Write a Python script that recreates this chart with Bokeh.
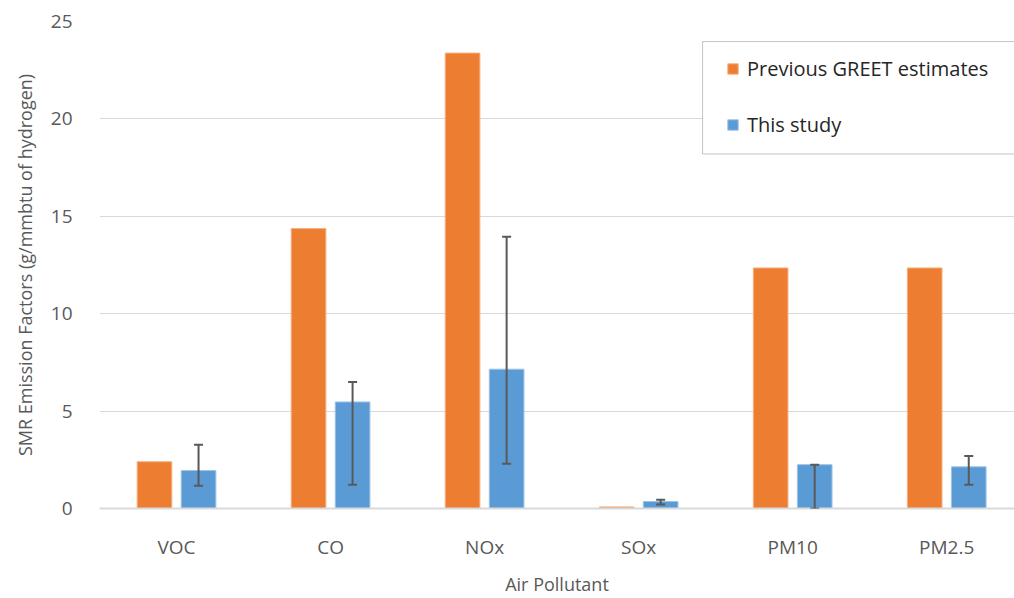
import numpy as np
from bokeh.plotting import figure
from bokeh.models import (ColumnDataSource, Range1d, FixedTicker, Whisker,
                          Legend, LegendItem, BoxAnnotation)
from bokeh.embed import file_html
from bokeh.resources import INLINE

categories = ["VOC", "CO", "NOx", "SOx", "PM10", "PM2.5"]
greet_values = [2.4, 14.37, 23.38, 0.08, 12.35, 12.35]
study_values = [1.95, 5.47, 7.15, 0.36, 2.25, 2.14]
study_upper = [3.27, 6.5, 13.95, 0.45, 2.25, 2.7]
study_lower = [1.17, 1.22, 2.3, 0.2, 0.0, 1.22]
y_ticks = [0, 5, 10, 15, 20, 25]

FONT = "Open Sans"
TXT = "#595959"
ORANGE = "#ED7D31"
BLUE = "#5B9BD5"

idx = np.arange(len(categories))
off = 0.143
bw = 0.225

src_g = ColumnDataSource(dict(x=idx - off, top=greet_values))
src_s = ColumnDataSource(dict(x=idx + off, top=study_values,
                              upper=study_upper, lower=study_lower))

X0, X1 = -0.5, 5.44
p = figure(width=1014, height=598, output_backend="svg", toolbar_location=None,
           x_range=Range1d(X0, X1), y_range=Range1d(0, 25))
p.min_border_left = 99
p.min_border_right = 0
p.min_border_top = 21
p.min_border_bottom = 87
p.outline_line_color = None

r1 = p.vbar(x="x", top="top", width=bw, source=src_g, fill_color=ORANGE,
            line_color="#F4B183", line_width=1)
r2 = p.vbar(x="x", top="top", width=bw, source=src_s, fill_color=BLUE,
            line_color="#9DC3E6", line_width=1)

wh = Whisker(base="x", upper="upper", lower="lower", source=src_s,
             line_color="#595959", line_width=2, level="overlay")
for head in (wh.upper_head, wh.lower_head):
    head.size = 9
    head.line_color = "#595959"
    head.line_width = 2
p.add_layout(wh)

# axes
p.xaxis.ticker = FixedTicker(ticks=list(idx))
p.xaxis.major_label_overrides = {int(i): c for i, c in zip(idx, categories)}
p.xaxis.major_tick_line_color = None
p.xaxis.minor_tick_line_color = None
p.xaxis.axis_line_color = "#D9D9D9"
p.xaxis.axis_line_width = 2
p.xaxis.major_label_standoff = 19
p.xaxis.major_label_text_font = FONT
p.xaxis.major_label_text_font_size = "19px"
p.xaxis.major_label_text_color = TXT
p.xaxis.axis_label = "Air Pollutant"
p.xaxis.axis_label_text_font = FONT
p.xaxis.axis_label_text_font_style = "normal"
p.xaxis.axis_label_text_font_size = "18px"
p.xaxis.axis_label_text_color = TXT
p.xaxis.axis_label_standoff = 9

p.yaxis.ticker = FixedTicker(ticks=y_ticks)
p.yaxis.major_tick_line_color = None
p.yaxis.minor_tick_line_color = None
p.yaxis.axis_line_color = None
p.yaxis.major_label_standoff = 21
p.yaxis.major_label_text_font = FONT
p.yaxis.major_label_text_font_size = "19px"
p.yaxis.major_label_text_color = TXT
p.yaxis.axis_label = "SMR Emission Factors (g/mmbtu of hydrogen)"
p.yaxis.axis_label_text_font = FONT
p.yaxis.axis_label_text_font_style = "normal"
p.yaxis.axis_label_text_font_size = "18px"
p.yaxis.axis_label_text_color = TXT
p.yaxis.axis_label_standoff = 11

p.xgrid.grid_line_color = None
p.ygrid.grid_line_color = "#D9D9D9"
p.ygrid.grid_line_width = 1

# legend frame (extends past the right edge, as in the original)
box = BoxAnnotation(left=3.415, right=X1 + 1, bottom=18.2, top=23.97,
                    fill_color="white", fill_alpha=1,
                    line_color="#404040", line_width=1, level="annotation")
p.add_layout(box)

legend = Legend(items=[LegendItem(label="Previous GREET estimates", renderers=[r1]),
                       LegendItem(label="This study", renderers=[r2])],
                location=(627, 370))
legend.border_line_color = None
legend.background_fill_alpha = 0
legend.padding = 15
legend.spacing = 29
legend.glyph_width = 13
legend.glyph_height = 13
legend.label_standoff = 8
legend.label_text_font = FONT
legend.label_text_font_size = "20px"
legend.label_text_color = "#262626"
legend.label_height = 20
legend.margin = 0
p.add_layout(legend, "center")

open("out.html", "w").write(file_html(p, INLINE))
